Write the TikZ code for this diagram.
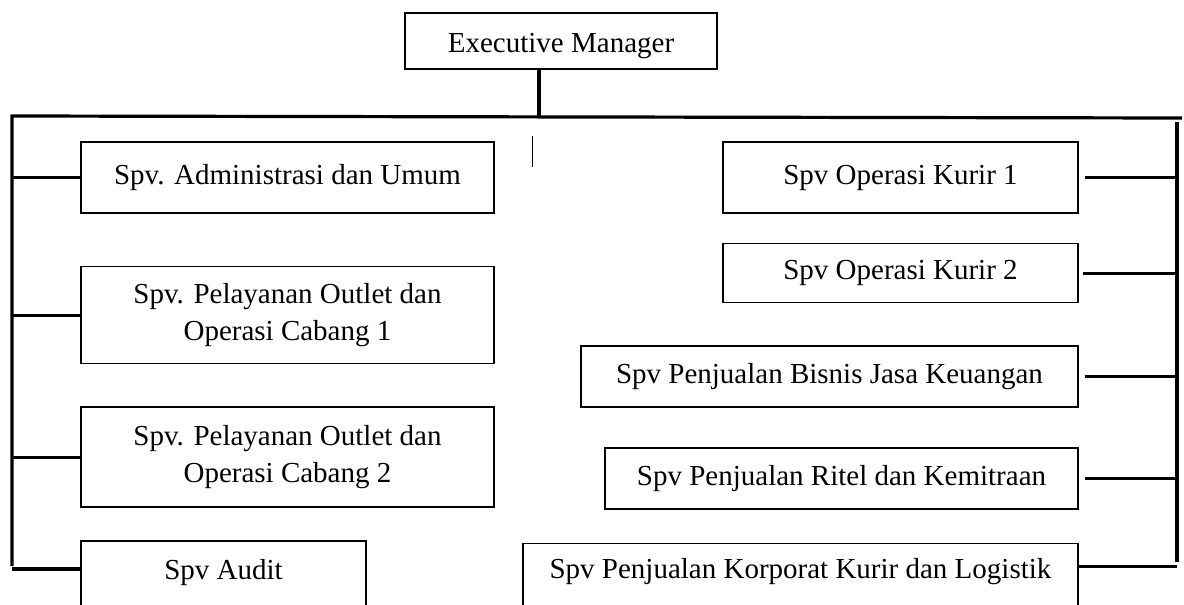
\documentclass[tikz,border=0pt]{standalone}
\usepackage{fontspec}
\setmainfont{Liberation Serif}
\usetikzlibrary{positioning}

\begin{document}
\begin{tikzpicture}[
    x=1pt, y=-1pt,
    link/.style={line width=3.2pt},
    tick/.style={line width=1pt},
    box/.style={
        rectangle,
        draw=black,
        line width=1.6pt,
        inner sep=0pt,
        align=center,
        font=\fontsize{29pt}{37pt}\selectfont
    },
    leftbox/.style={box, minimum width=413pt},
    kurirbox/.style={box, minimum width=355pt}
]
\useasboundingbox (0,0) rectangle (1184,605);
\clip (0,0) rectangle (1184,605);

\node[box, minimum width=312pt, minimum height=56pt, text height=28pt, text depth=6pt] (exec) at (561,41) {Executive Manager};

\node[leftbox, minimum height=71pt] (admin) at (287.5,177.5) {Spv. Administrasi dan Umum};

\node[leftbox, minimum height=97pt, below=52pt of admin] (cab1) {
    Spv. Pelayanan Outlet dan\\
    Operasi Cabang 1
};

\node[leftbox, minimum height=100pt, below=42pt of cab1] (cab2) {
    Spv. Pelayanan Outlet dan\\
    Operasi Cabang 2
};

\node[box, minimum width=285pt, text height=39pt, text depth=70pt,
      below=32pt of cab2.south west, anchor=north west] (audit) {Spv Audit};

\node[kurirbox, minimum height=71pt] (kurir1) at (900.5,177.5) {Spv Operasi Kurir 1};

\node[kurirbox, minimum height=59pt, below=29pt of kurir1] (kurir2) {Spv Operasi Kurir 2};

\node[box, minimum width=497pt, minimum height=61pt,
      below=42pt of kurir2.south east, anchor=north east] (bjk) {Spv Penjualan Bisnis Jasa Keuangan};

\node[box, minimum width=473pt, minimum height=61pt,
      below=39pt of bjk.south east, anchor=north east] (ritel) {Spv Penjualan Ritel dan Kemitraan};

\node[box, minimum width=555pt, text height=35pt, text depth=75pt,
      below=33pt of ritel.south east, anchor=north east] (korporat) {Spv Penjualan Korporat Kurir dan Logistik};

\coordinate (busL) at (12,116);
\coordinate (busR) at (1182,118);
\coordinate (stem) at (539,117);
\coordinate (railL) at (12,566);
\coordinate (railRtop) at (1177,122);
\coordinate (railRbot) at (1177,562);
\coordinate (tickT) at (532,136);
\coordinate (tickB) at (532,167);
\coordinate (auditIn) at ([yshift=-29pt]audit.north west);
\coordinate (korpIn) at ([yshift=-24pt]korporat.north east);

\draw[link] (exec.south -| stem) -- (stem);
\draw[link] (railL) -- (busL) -- (busR);
\draw[link] (railRtop) -- (railRbot);
\draw[tick] (tickT) -- (tickB);

\draw[link] (admin.west) -- (admin.west -| busL);
\draw[link] (cab1.west) -- (cab1.west -| busL);
\draw[link] (cab2.west) -- (cab2.west -| busL);
\draw[link] (auditIn) -- (auditIn -| busL);

\draw[link, shorten <=6pt] (kurir1.east) -- (kurir1.east -| railRtop);
\draw[link, shorten <=4pt] (kurir2.east) -- (kurir2.east -| railRtop);
\draw[link, shorten <=6pt] (bjk.east) -- (bjk.east -| railRtop);
\draw[link, shorten <=6pt] (ritel.east) -- (ritel.east -| railRtop);
\draw[link] (korpIn) -- (korpIn -| railRtop);

\end{tikzpicture}
\end{document}
